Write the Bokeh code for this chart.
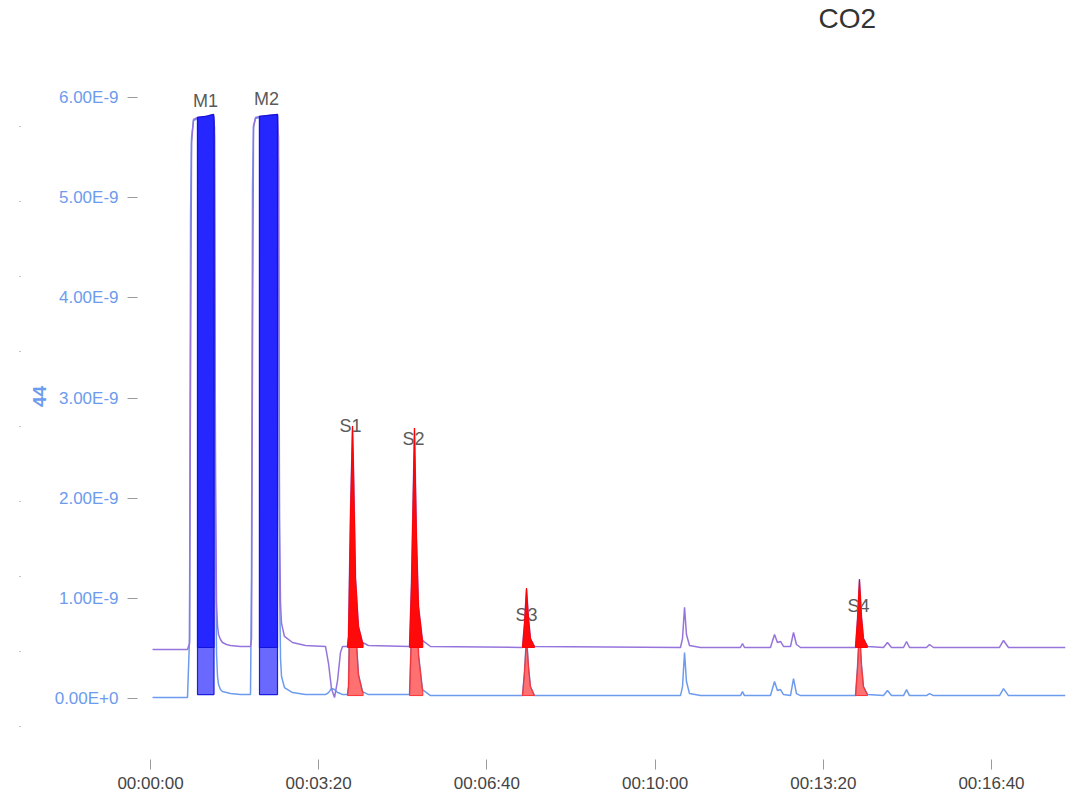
import numpy as np
from bokeh.plotting import figure
from bokeh.models import Range1d, LinearAxis, FixedTicker, CustomJSTickFormatter
from bokeh.embed import file_html
from bokeh.resources import INLINE
from bokeh.core.properties import value

# ---------------- data (time in s, signal in units of 1E-9) ----------------
time_s = [2.4, 44.0, 46.4, 47.6, 48.8, 51.1, 55.9, 65.4, 74.9, 76.1, 77.3, 78.5, 79.7, 80.9,
          83.2, 85.6, 90.4, 95.1, 107.0, 118.9, 120.1, 121.3, 122.5, 124.9, 129.6, 140.3,
          151.0, 152.2, 153.4, 154.6, 155.8, 159.3, 168.8, 184.3, 208.1, 211.7, 215.2, 218.8,
          222.4, 225.9, 228.3, 234.2, 235.4, 237.8, 240.2, 241.4, 243.8, 247.3, 252.1, 259.2,
          308.0, 310.3, 313.9, 316.3, 318.7, 323.4, 332.9, 442.3, 444.7, 447.1, 449.5, 451.8,
          456.6, 630.2, 632.6, 635.0, 637.3, 640.9, 654.0, 701.5, 703.9, 706.3, 737.2, 742.0,
          745.5, 749.1, 752.7, 761.0, 764.6, 768.1, 772.9, 838.3, 840.7, 843.0, 845.4, 847.8,
          852.6, 871.6, 876.3, 881.1, 895.4, 899.0, 902.5, 922.7, 926.3, 931.0, 1009.5, 1014.3,
          1020.2, 1088.0]

trace_upper = [0.49, 0.49, 0.55, 3.2, 5.55, 5.78, 5.80, 5.81, 5.83, 5.70, 2.2, 0.95, 0.72, 0.64,
               0.59, 0.56, 0.54, 0.53, 0.52, 0.52, 0.60, 3.5, 5.70, 5.80, 5.81, 5.82,
               5.83, 5.60, 1.8, 0.95, 0.75, 0.62, 0.56, 0.53, 0.52, 0.35, 0.10, 0.01,
               0.18, 0.46, 0.52, 0.52, 0.62, 1.85, 2.72, 2.30, 1.20, 0.72, 0.56, 0.53,
               0.52, 1.15, 2.70, 1.60, 0.92, 0.58, 0.52, 0.51, 0.75, 1.10, 0.80, 0.60,
               0.52, 0.51, 0.60, 0.91, 0.64, 0.53, 0.51, 0.51, 0.55, 0.51, 0.51, 0.64,
               0.56, 0.57, 0.52, 0.52, 0.66, 0.54, 0.51, 0.51, 0.80, 1.19, 0.82, 0.60,
               0.52, 0.51, 0.56, 0.51, 0.51, 0.57, 0.51, 0.51, 0.54, 0.51, 0.51, 0.58,
               0.51, 0.51]

trace_lower = [0.01, 0.01, 0.60, 4.8, 5.6, 5.77, 5.79, 5.80, 5.82, 5.60, 1.6, 0.45, 0.22, 0.14,
               0.09, 0.07, 0.06, 0.05, 0.04, 0.04, 1.2, 5.1, 5.72, 5.79, 5.80, 5.81,
               5.82, 5.30, 1.2, 0.40, 0.22, 0.11, 0.06, 0.04, 0.04, 0.06, 0.10, 0.09,
               0.06, 0.05, 0.04, 0.04, 0.12, 1.35, 2.24, 1.82, 0.72, 0.24, 0.07, 0.04,
               0.04, 0.68, 2.22, 1.12, 0.44, 0.09, 0.03, 0.03, 0.27, 0.62, 0.32, 0.12,
               0.03, 0.03, 0.12, 0.46, 0.17, 0.05, 0.03, 0.03, 0.07, 0.03, 0.03, 0.17,
               0.08, 0.09, 0.04, 0.03, 0.20, 0.05, 0.03, 0.03, 0.32, 0.71, 0.34, 0.12,
               0.04, 0.03, 0.08, 0.03, 0.03, 0.09, 0.03, 0.03, 0.05, 0.03, 0.03, 0.10,
               0.03, 0.03]

peak_names = ["M1", "M2", "S1", "S2", "S3", "S4"]
peak_kind = ["M", "M", "S", "S", "S", "S"]
peak_start = [55.9, 129.6, 234.2, 308.0, 442.3, 838.3]
peak_end = [75.5, 151.0, 252.8, 323.8, 456.6, 852.6]
base_upper = [0.51, 0.51, 0.51, 0.51, 0.51, 0.51]
base_lower = [0.04, 0.04, 0.03, 0.03, 0.03, 0.03]
label_t = [65.4, 138.0, 237.8, 312.7, 447.1, 841.9]
label_v = [5.96, 5.98, 2.72, 2.59, 0.83, 0.92]

y_ticks = [0, 1, 2, 3, 4, 5, 6]
x_ticks = [0, 200, 400, 600, 800, 1000]
dot_ticks = [0, 1, 2, 3, 4, 5, 6, 7, 8]

# ---------------- styles ----------------
PURPLE = "#9674dc"
BLUE = "#6d9bee"
FONT = "Liberation Sans"

p = figure(width=1075, height=796, output_backend="svg", toolbar_location=None,
           x_range=Range1d(-15.46, 1088.0), y_range=Range1d(-0.608, 6.638),
           min_border_left=137, min_border_right=10, min_border_top=32, min_border_bottom=37)
p.extra_y_ranges = {"dots": Range1d(-0.439, 9.241)}
p.xgrid.visible = False
p.ygrid.visible = False
p.outline_line_color = None
p.background_fill_color = "white"

# title
p.title.text = "CO2"
p.title.align = "left"
p.title.offset = 681
p.title.standoff = 0
p.title.text_font = FONT
p.title.text_font_size = "28px"
p.title.text_font_style = "normal"
p.title.text_color = "#333333"

# y axis
ya = p.yaxis[0]
ya.ticker = FixedTicker(ticks=y_ticks)
ya.formatter = CustomJSTickFormatter(code="return tick == 0 ? '0.00E+0' : tick.toFixed(2) + 'E-9';")
ya.axis_line_color = None
ya.major_tick_out = 10
ya.major_tick_in = 0
ya.minor_tick_line_color = None
ya.major_tick_line_color = "#9a9a9a"
ya.major_label_text_color = BLUE
ya.major_label_text_font = FONT
ya.major_label_text_font_size = "17px"
ya.major_label_standoff = 9
ya.axis_label = "44"
ya.axis_label_text_font = FONT
ya.axis_label_text_font_style = "bold"
ya.axis_label_text_font_size = "19px"
ya.axis_label_text_color = BLUE
ya.axis_label_standoff = 6

# outer dotted axis (tick dots only)
dots = LinearAxis(y_range_name="dots", ticker=FixedTicker(ticks=dot_ticks))
dots.formatter = CustomJSTickFormatter(code="return '';")
dots.axis_line_color = None
dots.major_tick_out = 10
dots.major_tick_in = -9
dots.minor_tick_line_color = None
dots.major_tick_line_color = "#8a8a8a"
dots.major_label_standoff = 0
p.add_layout(dots, "left")

# x axis
xa = p.xaxis[0]
xa.ticker = FixedTicker(ticks=x_ticks)
xa.formatter = CustomJSTickFormatter(code="""
const s = Math.round(tick);
const h = Math.floor(s / 3600), m = Math.floor((s % 3600) / 60), sec = s % 60;
const f = (n) => String(n).padStart(2, '0');
return f(h) + ':' + f(m) + ':' + f(sec);
""")
xa.axis_line_color = None
xa.major_tick_out = 10
xa.major_tick_in = 0
xa.minor_tick_line_color = None
xa.major_tick_line_color = "#9a9a9a"
xa.major_label_text_color = "#444444"
xa.major_label_text_font = FONT
xa.major_label_text_font_size = "17px"
xa.major_label_standoff = 4

# peak labels
p.text(x=label_t, y=label_v, text=peak_names, text_align="center", text_baseline="middle",
       text_font=value(FONT), text_font_size="18px", text_color="#5a5a5a")

ts = np.array(time_s)
vu = np.array(trace_upper)
vl = np.array(trace_lower)

# traces
p.line(ts, vl, line_color=BLUE, line_width=1.5)
p.line(ts, vu, line_color=PURPLE, line_width=1.5)


def window_poly(t0, t1, base, vs):
    inside = (ts > t0) & (ts < t1)
    xs = [t0, t0] + list(ts[inside]) + [t1, t1]
    ys = [base, float(np.interp(t0, ts, vs))] + list(vs[inside]) + [float(np.interp(t1, ts, vs)), base]
    return xs, ys


# lower (semi-transparent) integration areas
for k, t0, t1, b in zip(peak_kind, peak_start, peak_end, base_lower):
    xs, ys = window_poly(t0, t1, b, vl)
    if k == "M":
        p.patch(xs, ys, fill_color="#2a2aff", fill_alpha=0.7, line_color="#1c1ce0", line_width=1.2)
    else:
        p.patch(xs, ys, fill_color="#ff1a1a", fill_alpha=0.62, line_color="#ff3030", line_width=1.0)

# upper (solid) integration areas
for k, t0, t1, b in zip(peak_kind, peak_start, peak_end, base_upper):
    xs, ys = window_poly(t0, t1, b, vu)
    if k == "M":
        p.patch(xs, ys, fill_color="#2626ff", fill_alpha=1.0, line_color="#1414d8", line_width=1.2)
    else:
        p.patch(xs, ys, fill_color="#ff0a0a", fill_alpha=1.0, line_color="#ff0000", line_width=1.0)

open("out.html", "w").write(file_html(p, INLINE))
